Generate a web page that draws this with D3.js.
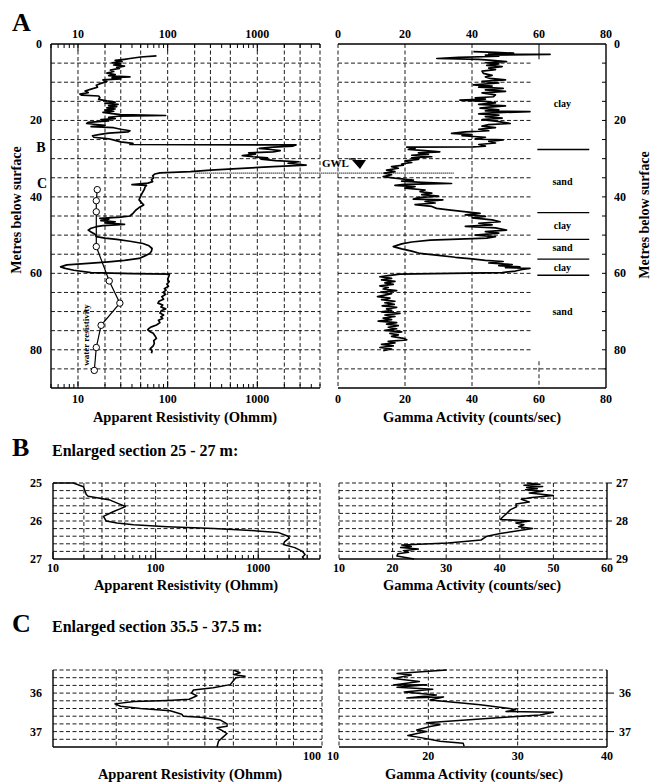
<!DOCTYPE html>
<html>
<head>
<meta charset="utf-8">
<style>
body { margin: 0; background: #fff; }
svg { font-family: "Liberation Serif", "Times New Roman", serif; font-weight: bold; }
</style>
</head>
<body>
<svg width="652" height="783"></svg>
<script src="https://cdn.jsdelivr.net/npm/d3@7/dist/d3.min.js"></script>
<script>

// ---- data: [depth (m), value] ----
var resistivityA = [[3.1,75],[3.4,50],[3.8,38],[4.0,33],[4.3,26],[4.6,31],[4.9,24],[5.2,30],[5.5,25],[5.8,33],[6.1,27],[6.4,29],[6.8,23],[7.2,25],[7.6,21],[8.0,26],[8.3,22],[8.6,38],[8.8,24],[9.1,30],[9.4,19],[9.8,21],[10.3,18],[10.8,16],[11.3,16.5],[11.8,14],[12.3,12],[12.7,13],[13.1,10.5],[13.4,11],[13.6,17],[14.0,17.5],[14.5,17],[14.9,21],[15.2,26],[15.5,20],[15.8,28],[16.1,22],[16.4,27],[16.7,21],[17.0,26],[17.3,20],[17.6,25],[17.9,19],[18.2,24],[18.5,30],[18.7,95],[18.9,28],[19.2,22],[19.5,26],[19.8,18],[20.1,22],[20.5,13],[20.8,12.5],[21.0,15],[21.3,20],[21.6,14],[21.9,25],[22.3,30],[22.7,38],[23.0,36],[23.3,22],[23.7,17],[24.0,14.5],[24.4,15],[24.8,22],[25.2,26],[25.6,30],[26.0,41],[26.3,38],[26.4,2700],[26.7,2500],[27.0,1500],[27.3,1050],[27.6,1400],[27.9,1800],[28.2,1500],[28.5,800],[28.8,950],[29.2,680],[29.5,900],[29.8,1300],[30.1,1100],[30.5,1600],[30.8,2900],[31.2,2200],[31.7,3500],[32.1,1500],[32.6,600],[33.0,300],[33.4,180],[33.7,82],[34.0,72],[34.5,68],[35.0,70],[35.5,66],[36.0,68],[36.4,60],[36.8,40],[37.0,58],[37.4,56],[38.0,55],[39.0,52],[39.8,50],[40.8,48],[41.5,51],[42.1,54],[42.8,48],[43.5,44],[44.3,41],[45.0,38],[45.3,30],[45.6,17.5],[45.9,22],[46.2,18],[46.5,26],[46.8,20],[47.2,33],[47.5,19],[47.8,16],[48.2,14],[48.7,13],[49.2,14],[49.8,15.5],[50.4,16],[50.8,20],[51.1,27],[51.6,38],[52.2,53],[52.8,62],[53.5,67],[54.2,66],[54.8,63],[55.5,55],[56.1,48],[56.6,33],[57.0,22],[57.4,13],[57.8,7.5],[58.3,6.4],[58.7,7.2],[59.2,9],[59.8,14],[60.1,40],[60.2,105],[60.8,103],[61.5,100],[62.2,104],[62.8,98],[63.4,102],[64.0,92],[64.4,96],[65.0,89],[65.5,95],[66.1,86],[66.8,90],[67.3,80],[67.8,78],[68.3,88],[68.8,84],[69.3,95],[69.8,85],[70.4,82],[70.9,90],[71.4,84],[71.8,88],[72.3,79],[72.9,82],[73.5,75],[74.0,66],[74.4,62],[74.8,60],[75.3,64],[75.7,69],[76.3,72],[77.0,75],[77.6,70],[78.3,71],[79.0,69],[79.7,64],[80.3,67],[80.9,66]];

var waterResistivity = [[38.1,16.4],[41.0,16],[43.9,16],[53.0,16],[62.0,22.3],[67.8,29.3],[73.6,18.1],[79.4,16],[85.4,15.2]];

var gammaA = [[2.0,40.4],[2.2,47],[2.4,52.4],[2.6,45],[2.7,63.3],[2.9,44],[3.2,48],[3.5,36],[3.8,29.5],[4.0,42],[4.3,46],[4.6,50.3],[4.9,44],[5.2,48],[5.6,44.4],[5.9,49],[6.3,45],[6.7,47],[7.1,43],[7.7,43.4],[8.2,46],[8.6,44],[9.0,45.4],[9.4,50],[9.8,43],[10.2,48],[10.7,40.4],[11.0,46],[11.3,42],[11.6,49.3],[12.0,44],[12.4,50],[12.8,43],[13.3,47],[13.8,46.4],[14.1,41],[14.4,44],[14.7,36.4],[15.0,44],[15.4,47],[15.8,42],[16.2,50],[16.5,45],[16.8,42.4],[17.2,48],[17.5,44],[17.7,57.3],[18.0,46],[18.3,42],[18.6,48],[19.0,44],[19.4,49],[19.8,43],[20.2,47],[20.8,51.4],[21.1,45],[21.5,43],[21.9,47],[22.3,42],[22.7,45],[23.0,38],[23.4,33.9],[23.7,40],[24.0,37],[24.4,44],[24.8,41],[25.1,49.3],[25.5,45],[25.9,47],[26.3,42],[26.7,44],[26.9,40.4],[27.0,20.5],[27.3,23],[27.6,21],[27.9,26],[28.2,30.4],[28.5,24],[28.8,27],[29.1,22],[29.5,28],[29.8,22],[30.2,24],[30.6,20],[31.0,22],[31.4,19],[31.7,19.5],[32.1,16],[32.5,18],[33.0,14.5],[33.4,17],[33.8,13.8],[34.2,16],[34.7,13.5],[35.1,17],[35.6,22.5],[35.9,19],[36.2,25],[36.5,33.9],[36.7,20],[37.0,17],[37.3,23],[37.7,20],[38.2,26],[38.6,24.5],[39.0,28],[39.4,25],[39.8,30],[40.2,24],[40.6,22.5],[40.8,31.3],[41.2,26],[41.6,29],[42.0,23],[42.5,28],[43.0,29.4],[43.4,33],[43.8,37],[44.3,42.4],[44.7,38],[45.1,44],[45.5,40],[46.0,46],[46.5,48.4],[46.9,42],[47.3,46],[47.7,38],[48.1,47],[48.7,50.3],[49.1,44],[49.5,48],[50.0,41],[50.4,47],[50.8,44.4],[51.3,27.5],[51.8,22],[52.3,19],[53.0,16.5],[53.6,19],[54.2,22],[54.8,24.5],[55.3,30],[55.8,35],[56.2,40],[56.6,44],[56.9,49.3],[57.3,45],[57.7,52],[58.0,48],[58.3,54.3],[58.5,50],[58.7,57.3],[59.0,55],[59.4,53],[59.8,49],[60.2,18.5],[60.6,15],[60.9,12.5],[61.3,16],[61.7,13],[62.1,17],[62.5,14],[62.9,16.5],[63.3,12.5],[63.7,15],[64.1,13.5],[64.5,17.5],[64.9,12.8],[65.3,16],[65.7,14],[66.1,11.8],[66.5,15.5],[66.9,13],[67.3,17],[67.7,14],[68.1,16.8],[68.5,13.2],[68.9,17.5],[69.3,14.5],[69.7,16],[70.1,13],[70.5,18.5],[70.9,14],[71.3,17],[71.7,13.5],[72.1,16],[72.5,12],[72.9,17.5],[73.3,14.5],[73.7,18],[74.1,15],[74.5,17.5],[74.9,14],[75.3,19],[75.7,15.5],[76.1,18],[76.5,16],[77.0,19.5],[77.4,20.5],[77.8,15],[78.2,17],[78.6,13],[79.0,16.5],[79.4,12.5],[79.8,16],[80.2,13.5]];

var lithoBoundaries = [27.6, 44.1, 51.1, 56.3, 60.5];
var lithoLabels = [["clay",15.6],["sand",36],["clay",47.5],["sand",53.3],["clay",58.4],["sand",70]];
var gwlDepth = 33.8;

var resistivityB = [[25.0,10],[25.0,15.8],[25.1,19.8],[25.3,21.1],[25.35,22],[25.45,36],[25.55,44],[25.62,50.8],[25.68,45],[25.75,39],[25.88,31],[26.0,33],[26.05,42],[26.1,61],[26.15,130],[26.2,370],[26.25,850],[26.3,1560],[26.4,1950],[26.45,2000],[26.55,1800],[26.62,1760],[26.7,2270],[26.8,2700],[26.88,2860],[26.95,2700],[27.0,2800]];
var gammaB = [[27.0,45],[27.03,47.5],[27.06,44.5],[27.09,48],[27.12,45],[27.15,47],[27.18,44.8],[27.22,48],[27.26,45.5],[27.33,50],[27.38,46],[27.43,44],[27.5,45.5],[27.55,43],[27.63,43.1],[27.7,42],[27.8,41.3],[27.9,40.5],[27.96,40.1],[28.0,45.6],[28.05,43],[28.1,44.5],[28.15,43.5],[28.2,46.1],[28.28,42.2],[28.33,40.1],[28.4,37.6],[28.5,36.5],[28.58,30.3],[28.63,21.7],[28.67,23.5],[28.7,21.5],[28.74,24.8],[28.78,22],[28.82,23],[28.86,21],[28.92,20.8],[29.0,24]];

var resistivityC = [[35.4,50],[35.47,52.7],[35.52,50],[35.56,54.8],[35.6,51],[35.68,50],[35.78,48.8],[35.86,42.7],[35.92,36.6],[36.0,36],[36.07,37.6],[36.16,35.4],[36.19,30],[36.22,23],[36.28,19.8],[36.34,20.7],[36.4,24.2],[36.46,30.5],[36.55,33.4],[36.6,33.8],[36.63,38.6],[36.7,45.2],[36.8,47.6],[36.86,47.6],[36.9,44],[36.98,46],[37.05,47.6],[37.15,46],[37.25,44.5],[37.4,44]];
var gammaC = [[35.4,22.05],[35.49,16.5],[35.53,18.1],[35.62,16.1],[35.7,19.0],[35.79,16.1],[35.78,19.8],[35.85,16.5],[35.9,20.5],[35.97,17.3],[36.05,20.9],[36.13,17.6],[36.1,21.7],[36.18,20.2],[36.3,25.8],[36.4,29.1],[36.43,29.8],[36.48,28.7],[36.5,34.0],[36.57,32.5],[36.62,29],[36.77,19.8],[36.82,21.3],[36.87,20.2],[36.96,18.7],[37.0,19.8],[37.1,17.7],[37.15,19],[37.25,21.3],[37.3,23.9],[37.38,24]];

// ---- tick labels ----
var aResTicks = [10, 100, 1000];
var aGammaTicks = [0, 20, 40, 60, 80];
var aDepthTicks = [0, 20, 40, 60, 80];
var bResTicks = [10, 100, 1000];
var bGammaTicks = [10, 20, 30, 40, 50, 60];
var bLeftDepthTicks = [25, 26, 27];
var bRightDepthTicks = [27, 28, 29];
var cResTicks = [100];
var cGammaTicks = [10, 20, 30, 40];
var cDepthTicks = [36, 37];

var svg = d3.select("svg");

function panel(o) {
  var g = svg.append("g");
  var x = (o.log ? d3.scaleLog() : d3.scaleLinear()).domain(o.xDomain).range([o.x0, o.x1]);
  var y = d3.scaleLinear().domain(o.yDomain).range([o.y0, o.y1]);

  // horizontal dashed grid
  g.selectAll(".hg").data(o.hGrid).enter().append("line")
      .attr("x1", o.x0).attr("x2", function(d) { return o.hGridEnd ? o.hGridEnd(d, x) : o.x1; })
      .attr("y1", function(d) { return y(d); }).attr("y2", function(d) { return y(d); })
      .attr("stroke", "#000").attr("stroke-width", 0.9).attr("stroke-dasharray", "4,2.5");
  // vertical dashed grid
  g.selectAll(".vg").data(o.vGrid).enter().append("line")
      .attr("x1", function(d) { return x(d); }).attr("x2", function(d) { return x(d); })
      .attr("y1", o.y0).attr("y2", o.y1)
      .attr("stroke", "#000").attr("stroke-width", 0.9).attr("stroke-dasharray", "4,2.5");

  // frame
  var sides = {
    top: [o.x0, o.y0, o.x1, o.y0], bottom: [o.x0, o.y1, o.x1, o.y1],
    left: [o.x0, o.y0, o.x0, o.y1], right: [o.x1, o.y0, o.x1, o.y1]
  };
  Object.keys(sides).forEach(function(k) {
    var s = sides[k];
    var dashed = o.dashed.indexOf(k) >= 0;
    g.append("line").attr("x1", s[0]).attr("y1", s[1]).attr("x2", s[2]).attr("y2", s[3])
      .attr("stroke", "#000").attr("stroke-width", dashed ? 0.9 : 1.4)
      .attr("stroke-dasharray", dashed ? "4,2.5" : null);
  });

  // log minor ticks
  if (o.log && o.minorTicks) {
    x.ticks().forEach(function(t) {
      var major = Math.abs(Math.log10(t) - Math.round(Math.log10(t))) < 1e-9;
      var len = major ? 7 : 4;
      o.minorTicks.forEach(function(side) {
        var yy = side === "top" ? o.y0 : o.y1;
        var dir = side === "top" ? 1 : -1;
        g.append("line").attr("x1", x(t)).attr("x2", x(t))
          .attr("y1", yy).attr("y2", yy + dir * len)
          .attr("stroke", "#000").attr("stroke-width", 1);
      });
    });
  }

  var line = d3.line().x(function(d) { return x(d[1]); }).y(function(d) { return y(d[0]); });
  if (o.data) {
    g.append("path").datum(o.data).attr("d", line)
      .attr("fill", "none").attr("stroke", "#000").attr("stroke-width", o.lw || 1.5)
      .attr("stroke-linejoin", "round");
  }
  return { x: x, y: y, g: g, line: line };
}

function label(txt, xx, yy, size, anchor) {
  return svg.append("text").attr("x", xx).attr("y", yy)
    .attr("font-size", size).attr("text-anchor", anchor || "middle").text(txt);
}

function step02(a, b) {
  var n = Math.round((b - a) / 0.2);
  return d3.range(1, n).map(function(i) { return +(a + i * 0.2).toFixed(1); });
}

// ================= Panel A =================
label("A", 12, 31, 26, "start");

var aL = panel({
  x0: 51, x1: 320, y0: 44, y1: 388, log: true, xDomain: [5, 5000], yDomain: [0, 90],
  hGrid: d3.range(5, 90, 5), vGrid: [10, 20, 30, 50, 100, 200, 300, 500, 1000, 2000, 3000],
  dashed: ["right"], minorTicks: ["top", "bottom"], data: resistivityA, lw: 1.7
});
var aR = panel({
  x0: 338, x1: 606, y0: 44, y1: 388, log: false, xDomain: [0, 80], yDomain: [0, 90],
  hGrid: d3.range(5, 90, 5), vGrid: [20, 40],
  hGridEnd: function(d, x) { return d === 85 ? 606 : x(57.5); },
  dashed: ["left"], data: gammaA, lw: 1.7
});
// dashed 60 at bottom of gamma panel
aR.g.append("line").attr("x1", aR.x(60)).attr("x2", aR.x(60)).attr("y1", aR.y(83)).attr("y2", aR.y(90))
  .attr("stroke", "#000").attr("stroke-width", 0.9).attr("stroke-dasharray", "4,2.5");
aR.g.append("line").attr("x1", aR.x(60)).attr("x2", aR.x(60)).attr("y1", aR.y(0)).attr("y2", aR.y(4))
  .attr("stroke", "#000").attr("stroke-width", 1);
// right edge ticks
d3.range(5, 90, 5).forEach(function(d) {
  aR.g.append("line").attr("x1", 606).attr("x2", 602).attr("y1", aR.y(d)).attr("y2", aR.y(d))
    .attr("stroke", "#000").attr("stroke-width", 1);
});

// water resistivity
aL.g.append("path").datum(waterResistivity).attr("d", aL.line)
  .attr("fill", "none").attr("stroke", "#000").attr("stroke-width", 1.2);
aL.g.selectAll(".wr").data(waterResistivity).enter().append("circle")
  .attr("cx", function(d) { return aL.x(d[1]); }).attr("cy", function(d) { return aL.y(d[0]); })
  .attr("r", 3.2).attr("fill", "#fff").attr("stroke", "#000").attr("stroke-width", 1);
svg.append("text").attr("transform", "translate(89,335) rotate(-90)")
  .attr("font-size", 9).attr("text-anchor", "middle").text("water resistivity");

// lithology
lithoBoundaries.forEach(function(d) {
  aR.g.append("line").attr("x1", aR.x(59.5)).attr("x2", aR.x(75))
    .attr("y1", aR.y(d)).attr("y2", aR.y(d)).attr("stroke", "#000").attr("stroke-width", 1.3);
});
lithoLabels.forEach(function(d) {
  label(d[0], aR.x(67), aR.y(d[1]) + 3.5, 10);
});

// GWL
svg.append("line").attr("x1", aL.x(200)).attr("x2", aR.x(34.5))
  .attr("y1", aL.y(gwlDepth)).attr("y2", aL.y(gwlDepth))
  .attr("stroke", "#000").attr("stroke-width", 1.3).attr("stroke-dasharray", "1,1");
label("GWL", 322, 167, 11, "start");
svg.append("path").attr("d", "M352,160 L366,160 L360,169 Z").attr("fill", "#000");
svg.append("line").attr("x1", 349).attr("x2", 356).attr("y1", 159).attr("y2", 159).attr("stroke", "#000").attr("stroke-width", 1.2);

// B / C markers
label("B", 41, 152, 14);
label("C", 42, 188, 14);

// axis labels A
aResTicks.forEach(function(t) {
  label(t, aL.x(t), 38, 12);
  label(t, aL.x(t), 403, 12);
});
aGammaTicks.forEach(function(t) {
  label(t, aR.x(t), 38, 12);
  label(t, aR.x(t), 403, 12);
});
aDepthTicks.forEach(function(t) {
  label(t, 42, aL.y(t) + 4, 12, "end");
  label(t, 614, aR.y(t) + 4, 12, "start");
});
label("Apparent Resistivity (Ohmm)", 185, 422, 14.5);
label("Gamma Activity (counts/sec)", 472, 422, 14.5);
svg.append("text").attr("transform", "translate(21,210) rotate(-90)")
  .attr("font-size", 14).attr("text-anchor", "middle").text("Metres below surface");
svg.append("text").attr("transform", "translate(649,215) rotate(-90)")
  .attr("font-size", 14).attr("text-anchor", "middle").text("Metres below surface");

// ================= Panel B =================
label("B", 12, 456, 26, "start");
label("Enlarged section 25 - 27 m:", 52, 456, 16, "start");

var bL = panel({
  x0: 53, x1: 320, y0: 483, y1: 559, log: true, xDomain: [10, 4000], yDomain: [25, 27],
  hGrid: step02(25, 27), vGrid: [20, 30, 50, 100, 200, 300, 500, 1000, 2000, 3000],
  dashed: ["top", "right"], minorTicks: ["bottom"], data: resistivityB
});
var bR = panel({
  x0: 339, x1: 607, y0: 483, y1: 559, log: false, xDomain: [10, 60], yDomain: [27, 29],
  hGrid: step02(27, 29), vGrid: [20, 30, 40, 50],
  dashed: ["top", "left"], data: gammaB
});
bResTicks.forEach(function(t) { label(t, bL.x(t), 572, 12); });
bGammaTicks.forEach(function(t) { label(t, bR.x(t), 572, 12); });
bLeftDepthTicks.forEach(function(t) { label(t, 42, bL.y(t) + 4, 12, "end"); });
bRightDepthTicks.forEach(function(t) {
  label(t, 616, bR.y(t) + 4, 12, "start");
  bR.g.append("line").attr("x1", 607).attr("x2", 612).attr("y1", bR.y(t)).attr("y2", bR.y(t)).attr("stroke", "#000");
});
label("Apparent Resistivity (Ohmm)", 186, 590, 14.5);
label("Gamma Activity (counts/sec)", 472, 590, 14.5);

// ================= Panel C =================
label("C", 12, 632, 26, "start");
label("Enlarged section 35.5 - 37.5 m:", 52, 632, 16, "start");

var cL = panel({
  x0: 53, x1: 322, y0: 670, y1: 747, log: true, xDomain: [12.2, 100], yDomain: [35.4, 37.4],
  hGrid: step02(35.4, 37.4), vGrid: [20, 30, 40, 50, 70, 80],
  dashed: ["top", "right"], data: resistivityC
});
var cR = panel({
  x0: 339, x1: 607, y0: 670, y1: 747, log: false, xDomain: [10, 40], yDomain: [35.4, 37.4],
  hGrid: step02(35.4, 37.4), vGrid: [20, 30],
  dashed: ["top", "left"], data: gammaC
});
cResTicks.forEach(function(t) { label(t, cL.x(t) - 1, 760, 12, "end"); });
cGammaTicks.forEach(function(t) { label(t, cR.x(t) - (t === 10 ? 6 : 0), 760, 12); });
cDepthTicks.forEach(function(t) {
  label(t, 42, cL.y(t) + 4, 12, "end");
  label(t, 619, cR.y(t) + 4, 12, "start");
  cR.g.append("line").attr("x1", 607).attr("x2", 614).attr("y1", cR.y(t)).attr("y2", cR.y(t)).attr("stroke", "#000");
});
label("Apparent Resistivity (Ohmm)", 190, 779, 14.5);
label("Gamma Activity (counts/sec)", 474, 779, 14.5);

</script>
</body>
</html>
